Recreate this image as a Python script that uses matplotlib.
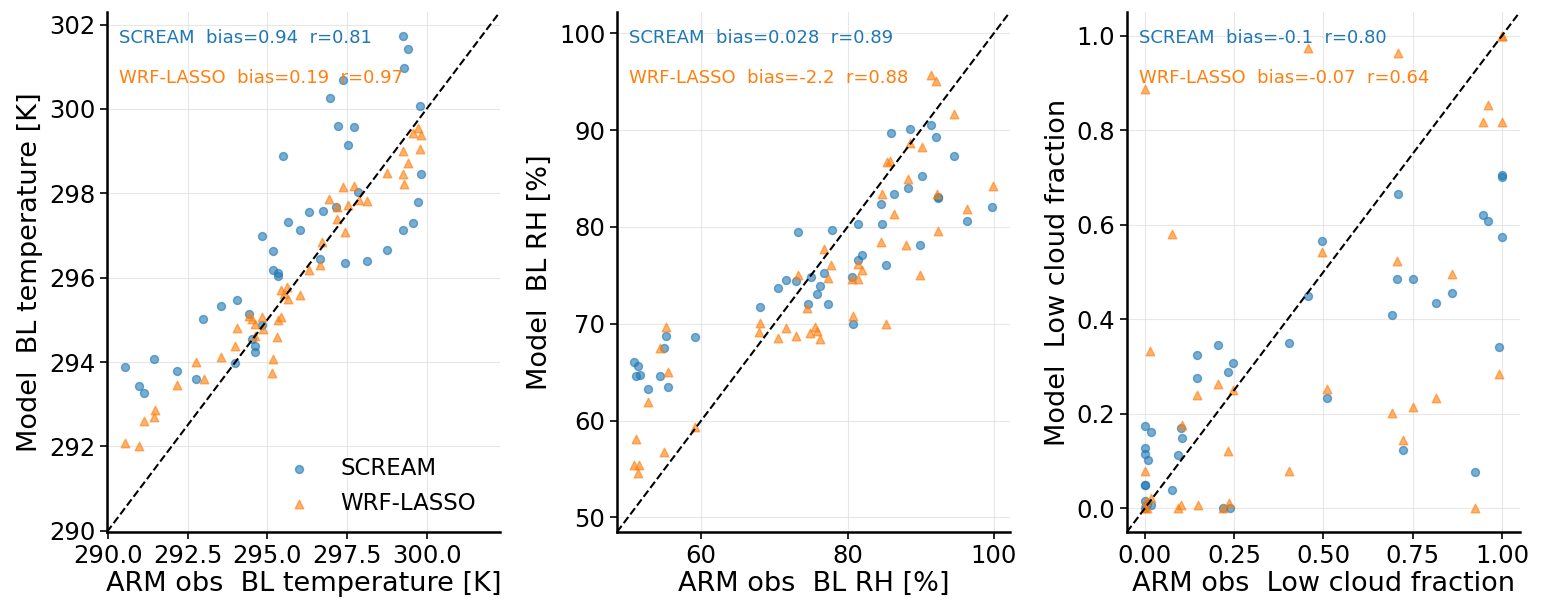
import matplotlib
matplotlib.use('Agg')
import matplotlib.pyplot as plt

plt.rc('font', family='DejaVu Sans', size=19.5)
plt.rc('xtick', labelsize=17.5)
plt.rc('ytick', labelsize=17.5)

# ------------ DATA
# BL temperature [K]
temp_scream_obs = [299.27, 299.42, 299.29, 297.37, 296.96, 299.80, 297.22, 297.72, 297.52, 295.50,
                   299.83, 297.86, 299.74, 297.17, 296.30, 296.74, 295.65, 296.02, 294.85, 299.27,
                   299.58, 295.17, 298.75, 296.64, 297.44, 298.13, 295.17, 295.34, 295.34, 294.06,
                   293.56, 292.99, 294.42, 294.85, 294.52, 294.63, 294.60, 293.99, 291.46, 290.54,
                   292.17, 292.77, 290.99, 291.14]
temp_scream_mod = [301.72, 301.43, 300.98, 300.68, 300.25, 300.06, 299.59, 299.57, 299.14, 298.88,
                   298.45, 298.02, 297.79, 297.68, 297.55, 297.57, 297.32, 297.14, 296.98, 297.14,
                   297.29, 296.63, 296.65, 296.45, 296.34, 296.39, 296.18, 296.11, 296.04, 295.46,
                   295.32, 295.03, 295.14, 294.87, 294.54, 294.39, 294.23, 293.97, 294.07, 293.88,
                   293.78, 293.59, 293.42, 293.26]
temp_wrf_obs = [299.72, 299.58, 299.82, 299.27, 299.80, 299.41, 298.75, 299.27, 299.29, 297.37,
                297.71, 296.94, 297.20, 297.52, 297.89, 298.13, 297.18, 297.44, 296.72, 296.30,
                296.65, 295.42, 295.63, 295.52, 295.65, 296.02, 294.42, 294.52, 294.85, 295.44,
                295.34, 294.61, 294.88, 294.06, 294.60, 295.32, 293.99, 295.17, 292.77, 293.56,
                295.16, 293.01, 292.17, 291.48, 291.45, 291.14, 290.54, 290.99]
temp_wrf_mod = [299.55, 299.44, 299.38, 299.00, 299.04, 298.71, 298.47, 298.45, 298.21, 298.14,
                298.17, 297.87, 297.68, 297.73, 297.85, 297.82, 297.38, 297.09, 296.84, 296.18,
                296.30, 295.70, 295.77, 295.62, 295.49, 295.58, 295.10, 295.02, 295.07, 295.07,
                294.99, 294.89, 294.79, 294.81, 294.61, 294.60, 294.39, 294.08, 294.00, 294.12,
                293.73, 293.59, 293.45, 292.87, 292.69, 292.61, 292.07, 292.01]

# BL RH [%]
rh_scream_obs = [91.47, 88.54, 85.99, 92.15, 94.56, 90.18, 88.26, 86.34, 84.56, 92.33,
                 92.40, 99.77, 96.34, 84.75, 81.37, 77.85, 73.24, 89.90, 81.96, 81.37,
                 85.25, 76.75, 74.97, 80.64, 76.20, 71.55, 72.92, 70.45, 75.89, 74.56,
                 77.30, 67.99, 80.73, 55.25, 59.14, 54.97, 50.82, 51.32, 51.60, 51.10,
                 54.38, 52.70, 55.52]
rh_scream_mod = [90.50, 90.08, 89.67, 89.33, 87.29, 85.23, 83.99, 83.37, 82.33, 83.10,
                 82.95, 82.10, 80.58, 80.34, 80.34, 79.65, 79.44, 78.17, 77.13, 76.55,
                 76.03, 75.28, 74.86, 74.83, 73.94, 74.48, 74.38, 73.73, 73.10, 72.00,
                 72.00, 71.77, 70.00, 68.77, 68.67, 67.46, 66.08, 65.67, 64.74, 64.57,
                 64.57, 63.22, 63.43]
rh_wrf_obs = [91.37, 92.10, 94.56, 88.49, 90.18, 85.34, 85.85, 88.22, 99.82, 84.66,
              92.23, 86.34, 96.34, 92.37, 84.56, 87.95, 76.75, 77.81, 81.37, 82.00,
              73.20, 77.30, 80.55, 81.42, 89.90, 74.52, 80.73, 85.21, 67.99, 67.90,
              71.55, 70.45, 72.92, 75.52, 74.93, 75.89, 76.20, 55.25, 54.43, 55.52,
              52.70, 59.14, 51.10, 54.97, 50.82, 51.55, 51.32]
rh_wrf_mod = [95.66, 95.11, 91.70, 88.70, 88.22, 86.74, 86.78, 84.99, 84.23, 83.37,
              83.40, 81.37, 81.89, 79.62, 78.48, 78.13, 77.76, 76.03, 76.20, 75.60,
              75.00, 74.76, 74.66, 74.59, 75.07, 71.66, 70.80, 70.00, 70.11, 69.14,
              69.60, 68.52, 68.70, 69.70, 69.01, 69.25, 68.39, 69.63, 67.49, 65.01,
              61.91, 59.37, 58.13, 56.75, 55.37, 55.40, 54.62]

# Low cloud fraction
cf_scream_obs = [1.0, 1.0, 0.71, 0.947, 0.962, 1.0, 0.497, 0.457, 0.706, 0.751,
                 0.861, 0.815, 0.693, 0.404, 0.992, 0.205, 0.145, 0.246, 0.234, 0.147,
                 0.509, 0.0, 0.018, 0.102, 0.105, 0.0, 0.0, 0.01, 0.094, 0.724,
                 0.0, 0.0, 0.076, 0.925, 0.0, 0.017, 0.002, 0.0, 0.219, 0.238, 0.005]
cf_scream_mod = [0.706, 0.700, 0.665, 0.620, 0.607, 0.574, 0.566, 0.449, 0.485, 0.485,
                 0.455, 0.434, 0.409, 0.350, 0.341, 0.346, 0.324, 0.307, 0.288, 0.276,
                 0.233, 0.174, 0.161, 0.169, 0.148, 0.128, 0.116, 0.102, 0.112, 0.123,
                 0.050, 0.050, 0.039, 0.077, 0.015, 0.008, 0.005, 0.0, 0.0, 0.0, 0.010]
cf_wrf_obs = [1.0, 1.0, 0.456, 0.71, 0.0, 0.961, 0.947, 1.0, 0.075, 0.497,
              0.705, 0.861, 0.992, 0.015, 0.205, 0.247, 0.509, 0.145, 0.815, 0.751,
              0.693, 0.104, 0.724, 0.234, 0.403, 0.0, 0.018, 0.002, 0.0, 0.005,
              0.101, 0.094, 0.148, 0.219, 0.237, 0.925]
cf_wrf_mod = [1.0, 1.0, 0.973, 0.963, 0.887, 0.854, 0.818, 0.818, 0.580, 0.543,
              0.523, 0.495, 0.284, 0.332, 0.264, 0.250, 0.252, 0.240, 0.233, 0.214,
              0.201, 0.177, 0.144, 0.121, 0.078, 0.080, 0.021, 0.015, 0.0, 0.0,
              0.008, 0.0, 0.008, 0.0, 0.012, 0.0]

variables = ['BL temperature [K]', 'BL RH [%]', 'Low cloud fraction']
stats_scream = ['bias=0.94  r=0.81', 'bias=0.028  r=0.89', 'bias=-0.1  r=0.80']
stats_wrf = ['bias=0.19  r=0.97', 'bias=-2.2  r=0.88', 'bias=-0.07  r=0.64']
limits = [(289.97, 302.3), (48.5, 102.2), (-0.05, 1.05)]
xticks = [[290, 292.5, 295, 297.5, 300], [60, 80, 100], [0, 0.25, 0.5, 0.75, 1.0]]
yticks = [[290, 292, 294, 296, 298, 300, 302], [50, 60, 70, 80, 90, 100],
          [0, 0.2, 0.4, 0.6, 0.8, 1.0]]

scream_data = [(temp_scream_obs, temp_scream_mod), (rh_scream_obs, rh_scream_mod),
               (cf_scream_obs, cf_scream_mod)]
wrf_data = [(temp_wrf_obs, temp_wrf_mod), (rh_wrf_obs, rh_wrf_mod), (cf_wrf_obs, cf_wrf_mod)]

# ------------ PLOT
fig = plt.figure(figsize=(15.41, 6.16), dpi=100)
lefts = [0.0694, 0.4004, 0.7313]

for i in range(3):
    ax = fig.add_axes([lefts[i], 0.1364, 0.255, 0.8442])
    lo, hi = limits[i]

    ax.scatter(*scream_data[i], s=33, marker='o', color='C0', alpha=0.6, label='SCREAM')
    ax.scatter(*wrf_data[i], s=38, marker='^', color='C1', alpha=0.6, label='WRF-LASSO')
    ax.plot([lo, hi], [lo, hi], 'k--', lw=1.5)

    ax.set_xlim(lo, hi)
    ax.set_ylim(lo, hi)
    ax.set_xticks(xticks[i])
    ax.set_yticks(yticks[i])
    ax.grid(True, color='0.85', lw=0.8, alpha=0.6)
    ax.set_axisbelow(True)

    ax.spines['top'].set_visible(False)
    ax.spines['right'].set_visible(False)
    ax.spines['left'].set_linewidth(1.8)
    ax.spines['bottom'].set_linewidth(1.8)
    ax.tick_params(width=1.2, length=5)

    ax.set_xlabel('ARM obs  ' + variables[i], labelpad=2)
    ax.set_ylabel('Model  ' + variables[i], labelpad=4)

    ax.text(0.03, 0.940, 'SCREAM  ' + stats_scream[i], color='C0', fontsize=13,
            transform=ax.transAxes, va='baseline')
    ax.text(0.03, 0.8625, 'WRF-LASSO  ' + stats_wrf[i], color='C1', fontsize=13,
            transform=ax.transAxes, va='baseline')

    if i == 0:
        ax.legend(loc='lower right', bbox_to_anchor=(0.982, 0.0), frameon=False,
                  fontsize=16.5, borderaxespad=0.35)

plt.savefig('out.png', dpi=100)
